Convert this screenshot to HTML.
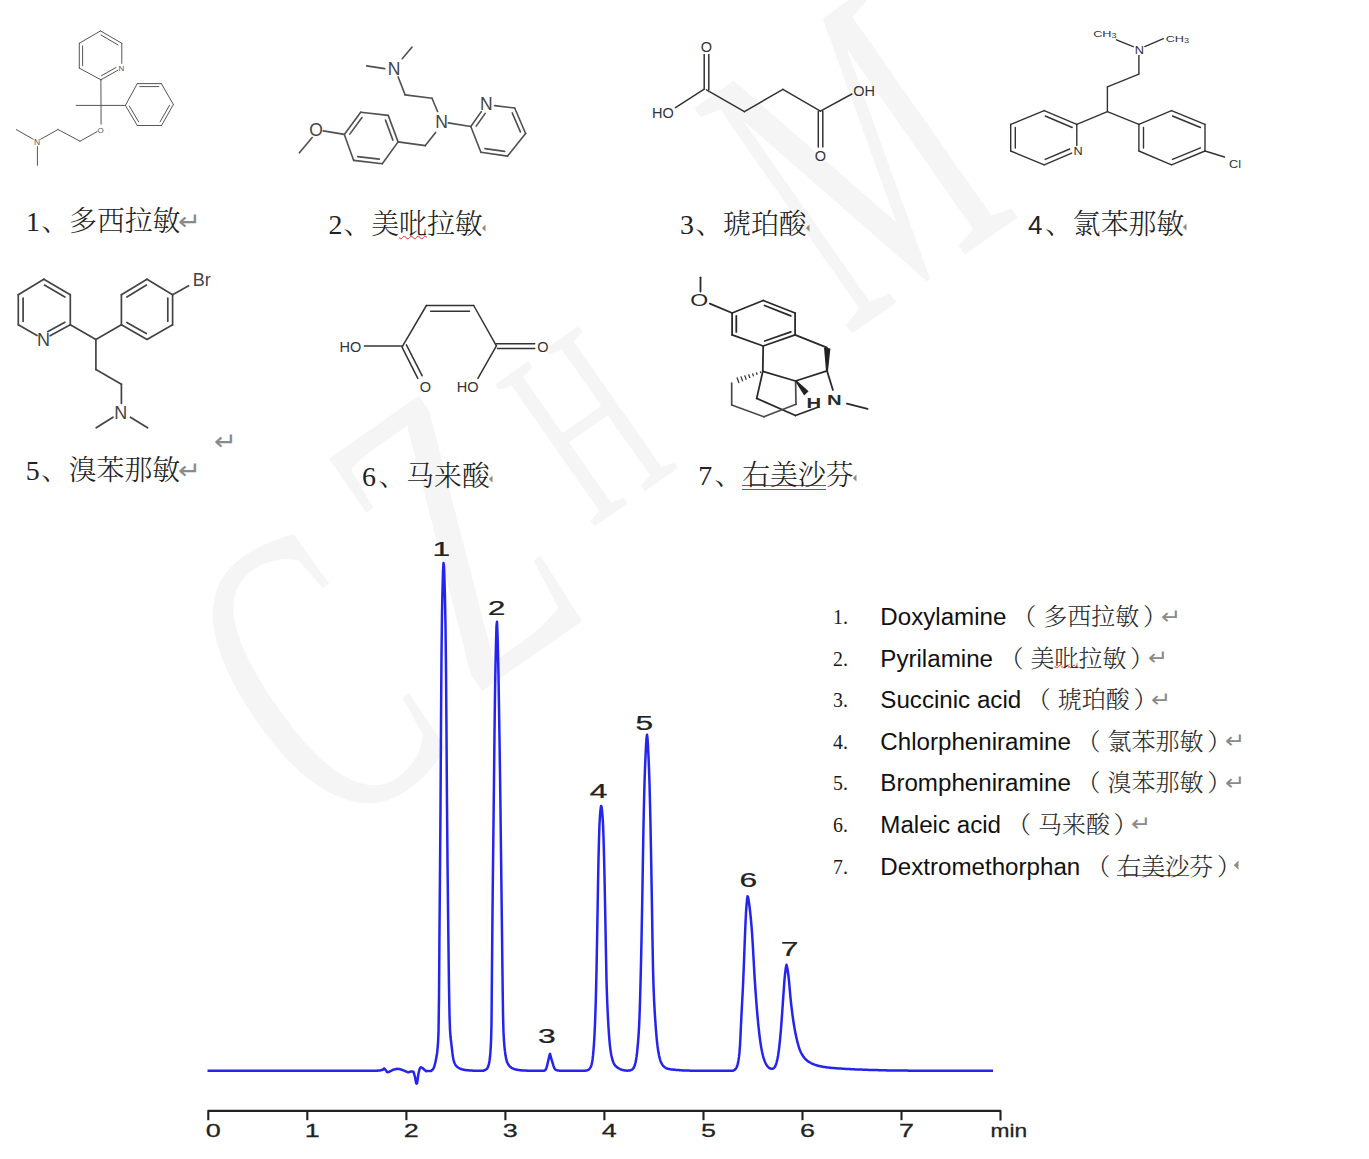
<!DOCTYPE html>
<html lang="zh-CN">
<head>
<meta charset="utf-8">
<title>抗组胺药色谱图</title>
<style>
html,body{margin:0;padding:0;background:#fff;}
body{width:1369px;height:1159px;position:relative;overflow:hidden;font-family:"Liberation Serif","Noto Serif CJK SC",serif;}
#wm{position:absolute;left:0;top:0;width:1369px;height:1159px;overflow:hidden;z-index:0;}
#wm span{position:absolute;font-family:"Liberation Serif",serif;font-size:425px;line-height:1;color:#f5f5f5;white-space:nowrap;transform:translate(-50%,-50%) rotate(-35deg) scaleX(0.58);}
svg{position:absolute;left:0;top:0;z-index:1;}
.lab{position:absolute;z-index:2;white-space:nowrap;font-size:27.85px;line-height:32px;color:#222;font-weight:300;}
.lab .n{font-family:"Liberation Serif",serif;}
.ret{color:#8a8a8a;font-family:"DejaVu Sans",sans-serif;font-size:24.5px;font-weight:400;line-height:1;position:relative;top:-1px;margin-left:-2px;display:inline-block;transform:scaleX(1.12);transform-origin:left center;}
.clip{display:inline-block;overflow:hidden;vertical-align:bottom;width:4px;}
.wavy{text-decoration:underline wavy #e03030 1px;text-underline-offset:0.5px;}
.dbl{background-image:linear-gradient(#3a62c8,#3a62c8),linear-gradient(#3a62c8,#3a62c8);background-size:100% 1.2px,100% 1.2px;background-repeat:no-repeat;background-position:0 25.4px,0 29px;}
ol{position:absolute;z-index:2;left:834px;top:596px;margin:0;padding:0;list-style:none;}
ol li{height:41.6px;line-height:41.6px;white-space:nowrap;font-size:24px;color:#1a1a1a;position:relative;}
ol li .no{position:absolute;left:-1.5px;top:0;font-family:"Liberation Serif","Noto Serif CJK SC",serif;font-size:22px;display:inline-block;transform:scaleX(0.9);transform-origin:left;}
ol li .en{position:absolute;left:46.3px;top:0;font-family:"Liberation Sans",sans-serif;font-size:24.15px;color:#111;}
ol li .cn{position:absolute;top:-2px;font-family:"Noto Serif CJK SC",serif;font-size:24px;color:#2a2a2a;font-weight:300;}
ol li .wavy{text-underline-offset:-2.5px;}
ol li .ret{font-size:21.5px;top:-1.5px;margin-left:-6px;}
.pl{margin-right:7px;}
.pr{margin-left:3.6px;}
.dbl2{background-image:linear-gradient(#3a62c8,#3a62c8);background-size:100% 1.4px;background-repeat:no-repeat;background-position:0 28.2px;}
</style>
</head>
<body>
<div id="wm"><span style="left:313px;top:676px">C</span><span style="left:452px;top:537px">Z</span><span style="left:585px;top:424px;font-size:265px">H</span><span style="left:854px;top:160px;font-size:420px">M</span></div>
<svg width="1369" height="1159" viewBox="0 0 1369 1159">
<g stroke="#555" stroke-width="1.0" fill="none" stroke-linecap="round">
<line x1="100.5" y1="30.9" x2="121.8" y2="43.3"/>
<line x1="101.0" y1="35.0" x2="118.0" y2="44.9"/>
<line x1="121.8" y1="43.3" x2="121.8" y2="63.4"/>
<line x1="117.8" y1="70.3" x2="100.9" y2="79.8"/>
<line x1="116.0" y1="67.5" x2="101.5" y2="75.7"/>
<line x1="100.9" y1="79.8" x2="79.3" y2="68.1"/>
<line x1="79.3" y1="68.1" x2="79.3" y2="43.3"/>
<line x1="82.6" y1="65.6" x2="82.6" y2="45.8"/>
<line x1="79.3" y1="43.3" x2="100.5" y2="30.9"/>
<line x1="100.9" y1="79.8" x2="101.1" y2="124.2"/>
<line x1="76.2" y1="105.4" x2="125.4" y2="105.4"/>
<line x1="125.4" y1="105.4" x2="137.3" y2="83.6"/>
<line x1="137.3" y1="83.6" x2="161.3" y2="83.6"/>
<line x1="139.8" y1="86.6" x2="158.8" y2="86.6"/>
<line x1="161.3" y1="83.6" x2="173.4" y2="104.5"/>
<line x1="173.4" y1="104.5" x2="161.5" y2="125.5"/>
<line x1="169.6" y1="105.2" x2="160.1" y2="121.8"/>
<line x1="161.5" y1="125.5" x2="137.3" y2="125.5"/>
<line x1="137.3" y1="125.5" x2="125.4" y2="105.4"/>
<line x1="138.6" y1="121.8" x2="129.3" y2="106.0"/>
<line x1="97.2" y1="131.6" x2="80.0" y2="141.2"/>
<line x1="80.0" y1="141.2" x2="58.0" y2="129.5"/>
<line x1="58.0" y1="129.5" x2="40.6" y2="139.3"/>
<line x1="33.2" y1="139.2" x2="16.3" y2="129.6"/>
<line x1="37.4" y1="146.6" x2="37.4" y2="165.3"/>
</g>
<g fill="#555" stroke="none" font-family="Liberation Sans, sans-serif">
<text x="121.3" y="71.4" font-size="8" text-anchor="middle">N</text>
<text x="100.5" y="132.8" font-size="8" text-anchor="middle">O</text>
<text x="37.0" y="145.2" font-size="8.5" text-anchor="middle">N</text>
</g>
<g stroke="#505050" stroke-width="1.6" fill="none" stroke-linecap="round">
<line x1="402.2" y1="58.7" x2="412.1" y2="47.0"/>
<line x1="384.7" y1="68.6" x2="366.6" y2="65.9"/>
<line x1="398.1" y1="76.8" x2="405.1" y2="94.9"/>
<line x1="405.1" y1="94.9" x2="432.0" y2="98.2"/>
<line x1="432.0" y1="98.2" x2="437.6" y2="111.5"/>
<line x1="435.6" y1="132.4" x2="425.3" y2="145.6"/>
<line x1="425.3" y1="145.6" x2="398.1" y2="141.9"/>
<line x1="398.1" y1="141.9" x2="388.2" y2="115.4"/>
<line x1="392.9" y1="140.1" x2="385.5" y2="120.1"/>
<line x1="388.2" y1="115.4" x2="360.7" y2="112.2"/>
<line x1="360.7" y1="112.2" x2="344.3" y2="134.4"/>
<line x1="362.0" y1="117.5" x2="349.8" y2="134.1"/>
<line x1="344.3" y1="134.4" x2="353.7" y2="160.4"/>
<line x1="353.7" y1="160.4" x2="382.3" y2="163.7"/>
<line x1="357.7" y1="156.6" x2="379.3" y2="159.1"/>
<line x1="382.3" y1="163.7" x2="398.1" y2="141.9"/>
<line x1="323.3" y1="130.9" x2="344.3" y2="134.4"/>
<line x1="312.2" y1="137.6" x2="299.4" y2="152.8"/>
<line x1="448.2" y1="122.9" x2="470.8" y2="126.5"/>
<line x1="470.8" y1="126.5" x2="481.3" y2="111.6"/>
<line x1="476.2" y1="126.1" x2="485.2" y2="113.4"/>
<line x1="494.6" y1="105.6" x2="514.7" y2="108.0"/>
<line x1="514.7" y1="108.0" x2="525.6" y2="133.5"/>
<line x1="512.2" y1="112.9" x2="520.4" y2="131.9"/>
<line x1="525.6" y1="133.5" x2="507.6" y2="156.1"/>
<line x1="507.6" y1="156.1" x2="480.9" y2="152.3"/>
<line x1="504.7" y1="151.4" x2="485.0" y2="148.6"/>
<line x1="480.9" y1="152.3" x2="470.8" y2="126.5"/>
</g>
<g fill="#444" stroke="none" font-family="Liberation Sans, sans-serif">
<text x="394.0" y="74.5" font-size="17.5" text-anchor="middle">N</text>
<text x="441.6" y="127.5" font-size="17.5" text-anchor="middle">N</text>
<text x="486.4" y="110.3" font-size="17.5" text-anchor="middle">N</text>
<text x="316.0" y="135.6" font-size="17.5" text-anchor="middle">O</text>
</g>
<g stroke="#333" stroke-width="1.5" fill="none" stroke-linecap="round">
<line x1="704.2" y1="54.6" x2="704.2" y2="89.0"/>
<line x1="708.8" y1="54.6" x2="708.8" y2="89.8"/>
<line x1="704.2" y1="89.2" x2="675.5" y2="107.6"/>
<line x1="706.5" y1="89.8" x2="744.4" y2="111.6"/>
<line x1="744.4" y1="111.6" x2="782.9" y2="89.4"/>
<line x1="782.9" y1="89.4" x2="820.4" y2="111.1"/>
<line x1="820.4" y1="111.1" x2="851.9" y2="94.0"/>
<line x1="818.3" y1="111.5" x2="818.3" y2="147.0"/>
<line x1="822.8" y1="111.1" x2="822.8" y2="147.0"/>
</g>
<g fill="#333" stroke="none" font-family="Liberation Sans, sans-serif">
<text x="706.3" y="51.5" font-size="14.5" text-anchor="middle">O</text>
<text x="662.8" y="117.8" font-size="14.5" text-anchor="middle">HO</text>
<text x="864.0" y="96.0" font-size="14.5" text-anchor="middle">OH</text>
<text x="820.4" y="161.4" font-size="14.5" text-anchor="middle">O</text>
</g>
<g stroke="#333" stroke-width="1.4" fill="none" stroke-linecap="round">
<line x1="1133.2" y1="46.7" x2="1116.5" y2="39.8"/>
<line x1="1144.8" y1="46.6" x2="1163.4" y2="38.7"/>
<line x1="1138.9" y1="55.6" x2="1138.9" y2="74.1"/>
<line x1="1138.9" y1="74.1" x2="1107.4" y2="86.9"/>
<line x1="1107.4" y1="86.9" x2="1107.4" y2="111.6"/>
<line x1="1107.4" y1="111.6" x2="1076.8" y2="124.4"/>
<line x1="1107.4" y1="111.6" x2="1138.9" y2="124.4"/>
<line x1="1076.8" y1="124.4" x2="1044.2" y2="110.6"/>
<line x1="1072.2" y1="127.5" x2="1045.2" y2="116.0"/>
<line x1="1044.2" y1="110.6" x2="1010.7" y2="124.4"/>
<line x1="1010.7" y1="124.4" x2="1010.7" y2="151.0"/>
<line x1="1015.3" y1="127.4" x2="1015.3" y2="148.0"/>
<line x1="1010.7" y1="151.0" x2="1044.2" y2="164.8"/>
<line x1="1044.2" y1="164.8" x2="1071.7" y2="153.1"/>
<line x1="1045.2" y1="159.4" x2="1069.7" y2="149.0"/>
<line x1="1076.8" y1="145.5" x2="1076.8" y2="124.4"/>
<line x1="1138.9" y1="124.4" x2="1171.5" y2="110.6"/>
<line x1="1171.5" y1="110.6" x2="1205.0" y2="124.4"/>
<line x1="1172.5" y1="116.0" x2="1200.5" y2="127.5"/>
<line x1="1205.0" y1="124.4" x2="1205.0" y2="151.0"/>
<line x1="1205.0" y1="151.0" x2="1171.5" y2="164.8"/>
<line x1="1200.5" y1="147.9" x2="1172.5" y2="159.4"/>
<line x1="1171.5" y1="164.8" x2="1138.9" y2="151.0"/>
<line x1="1138.9" y1="151.0" x2="1138.9" y2="124.4"/>
<line x1="1143.5" y1="148.0" x2="1143.5" y2="127.4"/>
<line x1="1205.0" y1="151.0" x2="1224.5" y2="157.0"/>
</g>
<g fill="#333" stroke="none" font-family="Liberation Sans, sans-serif">
<text transform="translate(1139.3,53.5) scale(1.25,1)" font-size="10.2" text-anchor="middle">N</text>
<text transform="translate(1078.2,155.2) scale(1.25,1)" font-size="10.2" text-anchor="middle">N</text>
<text transform="translate(1104.9,36.6) scale(1.3,1)" font-size="9.8" text-anchor="middle">CH<tspan font-size="7" dy="1.6">3</tspan></text>
<text transform="translate(1177.4,41.6) scale(1.3,1)" font-size="9.8" text-anchor="middle">CH<tspan font-size="7" dy="1.6">3</tspan></text>
<text transform="translate(1235.1,167.6) scale(1.25,1)" font-size="10.2" text-anchor="middle">Cl</text>
</g>
<g stroke="#444" stroke-width="1.7" fill="none" stroke-linecap="round">
<line x1="70.3" y1="324.8" x2="70.3" y2="294.7"/>
<line x1="70.3" y1="294.7" x2="43.8" y2="279.2"/>
<line x1="64.9" y1="297.1" x2="44.4" y2="285.1"/>
<line x1="43.8" y1="279.2" x2="18.3" y2="294.7"/>
<line x1="18.3" y1="294.7" x2="18.3" y2="324.8"/>
<line x1="23.1" y1="298.2" x2="23.1" y2="321.3"/>
<line x1="18.3" y1="324.8" x2="37.0" y2="335.6"/>
<line x1="50.1" y1="335.8" x2="70.3" y2="324.8"/>
<line x1="47.6" y1="331.7" x2="64.9" y2="322.3"/>
<line x1="70.3" y1="324.8" x2="95.9" y2="339.4"/>
<line x1="95.9" y1="339.4" x2="121.4" y2="324.8"/>
<line x1="121.4" y1="324.8" x2="121.4" y2="294.7"/>
<line x1="121.4" y1="294.7" x2="147.0" y2="279.2"/>
<line x1="126.9" y1="297.0" x2="146.5" y2="285.1"/>
<line x1="147.0" y1="279.2" x2="172.6" y2="294.7"/>
<line x1="172.6" y1="294.7" x2="172.6" y2="324.8"/>
<line x1="167.8" y1="298.2" x2="167.8" y2="321.3"/>
<line x1="172.6" y1="324.8" x2="147.0" y2="339.4"/>
<line x1="147.0" y1="339.4" x2="121.4" y2="324.8"/>
<line x1="146.3" y1="333.5" x2="126.8" y2="322.4"/>
<line x1="172.6" y1="294.7" x2="188.6" y2="285.8"/>
<line x1="95.9" y1="339.4" x2="95.9" y2="369.6"/>
<line x1="95.9" y1="369.6" x2="121.4" y2="384.2"/>
<line x1="121.4" y1="384.2" x2="121.4" y2="403.5"/>
<line x1="113.0" y1="417.2" x2="96.2" y2="427.8"/>
<line x1="130.4" y1="417.2" x2="147.6" y2="427.8"/>
</g>
<g fill="#444" stroke="none" font-family="Liberation Sans, sans-serif">
<text x="43.5" y="346.0" font-size="18" text-anchor="middle">N</text>
<text x="120.8" y="419.0" font-size="18" text-anchor="middle">N</text>
<text x="201.8" y="285.6" font-size="18" text-anchor="middle">Br</text>
</g>
<g stroke="#333" stroke-width="1.5" fill="none" stroke-linecap="round">
<line x1="364.4" y1="345.9" x2="402.7" y2="345.9"/>
<line x1="402.0" y1="347.2" x2="417.8" y2="378.3"/>
<line x1="406.4" y1="344.8" x2="422.2" y2="375.8"/>
<line x1="402.7" y1="345.9" x2="426.4" y2="305.5"/>
<line x1="426.4" y1="305.5" x2="473.7" y2="305.5"/>
<line x1="430.6" y1="311.2" x2="469.5" y2="311.2"/>
<line x1="473.7" y1="305.5" x2="496.4" y2="345.9"/>
<line x1="496.0" y1="343.8" x2="534.7" y2="343.8"/>
<line x1="497.5" y1="348.6" x2="534.7" y2="348.6"/>
<line x1="496.4" y1="345.9" x2="477.9" y2="378.3"/>
</g>
<g fill="#333" stroke="none" font-family="Liberation Sans, sans-serif">
<text x="350.3" y="351.7" font-size="14.5" text-anchor="middle">HO</text>
<text x="425.5" y="391.6" font-size="14.5" text-anchor="middle">O</text>
<text x="542.8" y="351.7" font-size="14.5" text-anchor="middle">O</text>
<text x="467.6" y="391.6" font-size="14.5" text-anchor="middle">HO</text>
</g>
<g stroke="#2a2a2a" stroke-width="1.8" fill="none" stroke-linecap="round">
<line x1="700.5" y1="277.3" x2="700.5" y2="291.5"/>
<line x1="709.8" y1="303.6" x2="732.1" y2="313.0"/>
<line x1="732.1" y1="313.0" x2="763.2" y2="300.5"/>
<line x1="763.2" y1="300.5" x2="795.1" y2="313.0"/>
<line x1="764.5" y1="305.5" x2="790.8" y2="315.8"/>
<line x1="795.1" y1="313.0" x2="795.1" y2="334.9"/>
<line x1="795.1" y1="334.9" x2="763.2" y2="346.0"/>
<line x1="790.9" y1="331.9" x2="764.7" y2="341.0"/>
<line x1="763.2" y1="346.0" x2="732.1" y2="334.9"/>
<line x1="732.1" y1="334.9" x2="732.1" y2="313.0"/>
<line x1="736.3" y1="331.9" x2="736.3" y2="316.0"/>
<line x1="795.1" y1="334.9" x2="827.0" y2="347.7"/>
<line x1="763.2" y1="346.0" x2="762.8" y2="371.4"/>
<line x1="762.8" y1="371.4" x2="795.5" y2="381.0"/>
<line x1="795.5" y1="381.0" x2="827.0" y2="370.8"/>
<line x1="827.0" y1="370.8" x2="832.9" y2="390.0"/>
<line x1="846.9" y1="403.6" x2="867.6" y2="408.9"/>
<line x1="762.8" y1="371.4" x2="756.7" y2="398.4"/>
<line x1="756.7" y1="398.4" x2="795.5" y2="415.5"/>
<line x1="795.5" y1="415.5" x2="818.5" y2="407.0"/>
</g>
<g stroke="#4a4a4a" stroke-width="1.7" fill="none" stroke-linecap="round">
<line x1="731.7" y1="383.0" x2="731.7" y2="405.0"/>
<line x1="731.7" y1="405.0" x2="763.9" y2="416.8"/>
<line x1="763.9" y1="416.8" x2="796.0" y2="404.3"/>
<line x1="796.0" y1="404.3" x2="795.6" y2="382.0"/>
</g>
<g fill="#222" stroke="none">
<polygon points="824.0,347.4 830.4,348.6 828.0,371.0 826.0,371.0"/>
<polygon points="795.0,381.0 796.6,380.6 808.6,391.2 804.2,395.4"/>
</g>
<g stroke="#333" stroke-width="1.3" fill="none" stroke-linecap="butt">
<line x1="760.8" y1="373.0" x2="760.3" y2="371.4"/>
<line x1="757.2" y1="374.7" x2="756.4" y2="372.4"/>
<line x1="753.6" y1="376.4" x2="752.5" y2="373.4"/>
<line x1="749.9" y1="378.1" x2="748.6" y2="374.4"/>
<line x1="746.3" y1="379.8" x2="744.7" y2="375.4"/>
<line x1="742.7" y1="381.4" x2="740.9" y2="376.4"/>
<line x1="739.0" y1="383.1" x2="737.0" y2="377.4"/>
</g>
<g fill="#2a2a2a" stroke="none" font-family="Liberation Sans, sans-serif">
<text transform="translate(699.3,306.0) scale(1.4,1)" font-size="16.5" text-anchor="middle">O</text>
<text transform="translate(813.9,407.6) scale(1.35,1)" font-size="15" font-weight="bold" text-anchor="middle">H</text>
<text transform="translate(834.4,405.2) scale(1.35,1)" font-size="15" font-weight="bold" text-anchor="middle">N</text>
</g>
<polyline points="207.5,1070.8 208.0,1070.8 208.5,1070.8 209.0,1070.8 209.5,1070.8 210.0,1070.8 210.5,1070.8 211.0,1070.8 211.5,1070.8 212.0,1070.8 212.5,1070.8 213.0,1070.8 213.5,1070.8 214.0,1070.8 214.5,1070.8 215.0,1070.8 215.5,1070.8 216.0,1070.8 216.5,1070.8 217.0,1070.8 217.5,1070.8 218.0,1070.8 218.5,1070.8 219.0,1070.8 219.5,1070.8 220.0,1070.8 220.5,1070.8 221.0,1070.8 221.5,1070.8 222.0,1070.8 222.5,1070.8 223.0,1070.8 223.5,1070.8 224.0,1070.8 224.5,1070.8 225.0,1070.8 225.5,1070.8 226.0,1070.8 226.5,1070.8 227.0,1070.8 227.5,1070.8 228.0,1070.8 228.5,1070.8 229.0,1070.8 229.5,1070.8 230.0,1070.8 230.5,1070.8 231.0,1070.8 231.5,1070.8 232.0,1070.8 232.5,1070.8 233.0,1070.8 233.5,1070.8 234.0,1070.8 234.5,1070.8 235.0,1070.8 235.5,1070.8 236.0,1070.8 236.5,1070.8 237.0,1070.8 237.5,1070.8 238.0,1070.8 238.5,1070.8 239.0,1070.8 239.5,1070.8 240.0,1070.8 240.5,1070.8 241.0,1070.8 241.5,1070.8 242.0,1070.8 242.5,1070.8 243.0,1070.8 243.5,1070.8 244.0,1070.8 244.5,1070.8 245.0,1070.8 245.5,1070.8 246.0,1070.8 246.5,1070.8 247.0,1070.8 247.5,1070.8 248.0,1070.8 248.5,1070.8 249.0,1070.8 249.5,1070.8 250.0,1070.8 250.5,1070.8 251.0,1070.8 251.5,1070.8 252.0,1070.8 252.5,1070.8 253.0,1070.8 253.5,1070.8 254.0,1070.8 254.5,1070.8 255.0,1070.8 255.5,1070.8 256.0,1070.8 256.5,1070.8 257.0,1070.8 257.5,1070.8 258.0,1070.8 258.5,1070.8 259.0,1070.8 259.5,1070.8 260.0,1070.8 260.5,1070.8 261.0,1070.8 261.5,1070.8 262.0,1070.8 262.5,1070.8 263.0,1070.8 263.5,1070.8 264.0,1070.8 264.5,1070.8 265.0,1070.8 265.5,1070.8 266.0,1070.8 266.5,1070.8 267.0,1070.8 267.5,1070.8 268.0,1070.8 268.5,1070.8 269.0,1070.8 269.5,1070.8 270.0,1070.8 270.5,1070.8 271.0,1070.8 271.5,1070.8 272.0,1070.8 272.5,1070.8 273.0,1070.8 273.5,1070.8 274.0,1070.8 274.5,1070.8 275.0,1070.8 275.5,1070.8 276.0,1070.8 276.5,1070.8 277.0,1070.8 277.5,1070.8 278.0,1070.8 278.5,1070.8 279.0,1070.8 279.5,1070.8 280.0,1070.8 280.5,1070.8 281.0,1070.8 281.5,1070.8 282.0,1070.8 282.5,1070.8 283.0,1070.8 283.5,1070.8 284.0,1070.8 284.5,1070.8 285.0,1070.8 285.5,1070.8 286.0,1070.8 286.5,1070.8 287.0,1070.8 287.5,1070.8 288.0,1070.8 288.5,1070.8 289.0,1070.8 289.5,1070.8 290.0,1070.8 290.5,1070.8 291.0,1070.8 291.5,1070.8 292.0,1070.8 292.5,1070.8 293.0,1070.8 293.5,1070.8 294.0,1070.8 294.5,1070.8 295.0,1070.8 295.5,1070.8 296.0,1070.8 296.5,1070.8 297.0,1070.8 297.5,1070.8 298.0,1070.8 298.5,1070.8 299.0,1070.8 299.5,1070.8 300.0,1070.8 300.5,1070.8 301.0,1070.8 301.5,1070.8 302.0,1070.8 302.5,1070.8 303.0,1070.8 303.5,1070.8 304.0,1070.8 304.5,1070.8 305.0,1070.8 305.5,1070.8 306.0,1070.8 306.5,1070.8 307.0,1070.8 307.5,1070.8 308.0,1070.8 308.5,1070.8 309.0,1070.8 309.5,1070.8 310.0,1070.8 310.5,1070.8 311.0,1070.8 311.5,1070.8 312.0,1070.8 312.5,1070.8 313.0,1070.8 313.5,1070.8 314.0,1070.8 314.5,1070.8 315.0,1070.8 315.5,1070.8 316.0,1070.8 316.5,1070.8 317.0,1070.8 317.5,1070.8 318.0,1070.8 318.5,1070.8 319.0,1070.8 319.5,1070.8 320.0,1070.8 320.5,1070.8 321.0,1070.8 321.5,1070.8 322.0,1070.8 322.5,1070.8 323.0,1070.8 323.5,1070.8 324.0,1070.8 324.5,1070.8 325.0,1070.8 325.5,1070.8 326.0,1070.8 326.5,1070.8 327.0,1070.8 327.5,1070.8 328.0,1070.8 328.5,1070.8 329.0,1070.8 329.5,1070.8 330.0,1070.8 330.5,1070.8 331.0,1070.8 331.5,1070.8 332.0,1070.8 332.5,1070.8 333.0,1070.8 333.5,1070.8 334.0,1070.8 334.5,1070.8 335.0,1070.8 335.5,1070.8 336.0,1070.8 336.5,1070.8 337.0,1070.8 337.5,1070.8 338.0,1070.8 338.5,1070.8 339.0,1070.8 339.5,1070.8 340.0,1070.8 340.5,1070.8 341.0,1070.8 341.5,1070.8 342.0,1070.8 342.5,1070.8 343.0,1070.8 343.5,1070.8 344.0,1070.8 344.5,1070.8 345.0,1070.8 345.5,1070.8 346.0,1070.8 346.5,1070.8 347.0,1070.8 347.5,1070.8 348.0,1070.8 348.5,1070.8 349.0,1070.8 349.5,1070.8 350.0,1070.8 350.5,1070.8 351.0,1070.8 351.5,1070.8 352.0,1070.8 352.5,1070.8 353.0,1070.8 353.5,1070.8 354.0,1070.8 354.5,1070.8 355.0,1070.8 355.5,1070.8 356.0,1070.8 356.5,1070.8 357.0,1070.8 357.5,1070.8 358.0,1070.8 358.5,1070.8 359.0,1070.8 359.5,1070.8 360.0,1070.8 360.5,1070.8 361.0,1070.8 361.5,1070.8 362.0,1070.8 362.5,1070.8 363.0,1070.8 363.5,1070.8 364.0,1070.8 364.5,1070.8 365.0,1070.8 365.5,1070.8 366.0,1070.8 366.5,1070.8 367.0,1070.8 367.5,1070.8 368.0,1070.8 368.5,1070.8 369.0,1070.8 369.5,1070.8 370.0,1070.8 370.5,1070.8 371.0,1070.8 371.5,1070.8 372.0,1070.8 372.5,1070.8 373.0,1070.8 373.5,1070.8 374.0,1070.8 374.5,1070.8 375.0,1070.8 375.5,1070.8 376.0,1070.8 376.5,1070.8 377.0,1070.7 377.5,1070.7 378.0,1070.6 378.5,1070.6 379.0,1070.6 379.5,1070.5 380.0,1070.5 380.5,1070.3 381.0,1070.2 381.5,1070.0 382.0,1069.9 382.5,1069.8 383.0,1069.6 383.5,1069.0 384.0,1068.4 384.5,1068.6 385.0,1069.3 385.5,1069.9 386.0,1070.6 386.5,1071.3 387.0,1072.0 387.5,1072.3 388.0,1072.1 388.5,1072.0 389.0,1071.8 389.5,1071.6 390.0,1071.4 390.5,1071.1 391.0,1070.9 391.5,1070.6 392.0,1070.3 392.5,1070.1 393.0,1069.8 393.5,1069.7 394.0,1069.5 394.5,1069.4 395.0,1069.3 395.5,1069.2 396.0,1069.0 396.5,1068.9 397.0,1068.8 397.5,1068.9 398.0,1068.9 398.5,1069.0 399.0,1069.1 399.5,1069.1 400.0,1069.2 400.5,1069.4 401.0,1069.5 401.5,1069.7 402.0,1069.9 402.5,1070.1 403.0,1070.2 403.5,1070.4 404.0,1070.6 404.5,1070.8 405.0,1071.0 405.5,1071.2 406.0,1071.5 406.5,1071.7 407.0,1071.9 407.5,1072.1 408.0,1072.3 408.5,1072.3 409.0,1072.1 409.5,1071.9 410.0,1071.8 410.5,1071.6 411.0,1071.4 411.5,1071.5 412.0,1071.6 412.5,1071.6 413.0,1071.7 413.5,1071.8 414.0,1073.3 414.5,1075.2 415.0,1077.0 415.5,1079.6 416.0,1082.6 416.5,1083.6 417.0,1083.4 417.5,1080.7 418.0,1076.5 418.5,1073.5 419.0,1071.4 419.5,1069.2 420.0,1068.3 420.5,1067.6 421.0,1067.3 421.5,1067.5 422.0,1067.8 422.5,1068.0 423.0,1068.5 423.5,1068.9 424.0,1069.3 424.5,1069.8 425.0,1070.3 425.5,1070.7 426.0,1071.2 426.5,1071.2 427.0,1071.1 427.5,1071.1 428.0,1071.1 428.5,1071.0 429.0,1071.0 429.5,1071.0 430.0,1070.9 430.5,1070.9 431.0,1070.9 431.5,1070.8 432.0,1070.1 432.5,1069.7 433.0,1069.1 433.5,1068.3 434.0,1067.2 434.5,1065.7 435.0,1063.9 435.5,1061.7 436.0,1059.2 436.5,1056.5 437.0,1053.5 437.5,1049.3 438.0,1043.1 438.5,1032.9 439.0,997.5 439.5,928.1 440.0,870.7 440.5,809.8 441.0,723.0 441.5,654.4 442.0,613.6 442.5,590.1 443.0,571.9 443.5,563.1 444.0,566.6 444.5,580.2 445.0,600.1 445.5,625.0 446.0,668.6 446.5,733.2 447.0,805.6 447.5,860.8 448.0,907.1 448.5,947.7 449.0,986.7 449.5,1014.8 450.0,1029.7 450.5,1036.5 451.0,1041.0 451.5,1045.0 452.0,1049.5 452.5,1053.7 453.0,1057.2 453.5,1059.8 454.0,1061.7 454.5,1063.0 455.0,1064.0 455.5,1064.9 456.0,1065.6 456.5,1066.2 457.0,1066.7 457.5,1067.1 458.0,1067.5 458.5,1067.8 459.0,1068.1 459.5,1068.4 460.0,1068.6 460.5,1068.8 461.0,1069.0 461.5,1069.2 462.0,1069.3 462.5,1069.5 463.0,1069.6 463.5,1069.7 464.0,1069.8 464.5,1069.9 465.0,1070.0 465.5,1070.0 466.0,1070.1 466.5,1070.2 467.0,1070.2 467.5,1070.3 468.0,1070.3 468.5,1070.3 469.0,1070.4 469.5,1070.4 470.0,1070.4 470.5,1070.5 471.0,1070.5 471.5,1070.5 472.0,1070.5 472.5,1070.5 473.0,1070.8 473.5,1070.8 474.0,1070.8 474.5,1070.8 475.0,1070.8 475.5,1070.8 476.0,1070.8 476.5,1070.8 477.0,1070.8 477.5,1070.8 478.0,1070.8 478.5,1070.8 479.0,1070.8 479.5,1070.8 480.0,1070.8 480.5,1070.8 481.0,1070.8 481.5,1070.8 482.0,1070.8 482.5,1070.8 483.0,1070.8 483.5,1070.8 484.0,1070.3 484.5,1070.2 485.0,1070.0 485.5,1069.8 486.0,1069.5 486.5,1069.1 487.0,1068.6 487.5,1067.9 488.0,1066.9 488.5,1065.5 489.0,1063.7 489.5,1060.9 490.0,1057.0 490.5,1051.0 491.0,1041.9 491.5,1024.4 492.0,966.2 492.5,911.4 493.0,865.8 493.5,823.5 494.0,779.9 494.5,733.4 495.0,694.0 495.5,664.9 496.0,643.2 496.5,626.0 497.0,621.7 497.5,633.8 498.0,652.5 498.5,675.1 499.0,707.3 499.5,738.5 500.0,772.5 500.5,811.1 501.0,851.9 501.5,893.1 502.0,932.5 502.5,975.5 503.0,1013.4 503.5,1032.2 504.0,1041.1 504.5,1047.1 505.0,1051.7 505.5,1055.3 506.0,1058.1 506.5,1060.2 507.0,1061.8 507.5,1063.0 508.0,1064.0 508.5,1064.8 509.0,1065.5 509.5,1066.1 510.0,1066.6 510.5,1067.1 511.0,1067.4 511.5,1067.8 512.0,1068.1 512.5,1068.3 513.0,1068.5 513.5,1068.8 514.0,1069.0 514.5,1069.1 515.0,1069.3 515.5,1069.4 516.0,1069.5 516.5,1069.7 517.0,1069.8 517.5,1069.8 518.0,1069.9 518.5,1070.0 519.0,1070.1 519.5,1070.1 520.0,1070.2 520.5,1070.2 521.0,1070.3 521.5,1070.3 522.0,1070.4 522.5,1070.4 523.0,1070.4 523.5,1070.4 524.0,1070.5 524.5,1070.5 525.0,1070.5 525.5,1070.5 526.0,1070.6 526.5,1070.6 527.0,1070.8 527.5,1070.8 528.0,1070.8 528.5,1070.8 529.0,1070.8 529.5,1070.8 530.0,1070.8 530.5,1070.8 531.0,1070.8 531.5,1070.8 532.0,1070.8 532.5,1070.8 533.0,1070.8 533.5,1070.8 534.0,1070.8 534.5,1070.8 535.0,1070.8 535.5,1070.8 536.0,1070.8 536.5,1070.8 537.0,1070.8 537.5,1070.8 538.0,1070.8 538.5,1070.8 539.0,1070.8 539.5,1070.8 540.0,1070.8 540.5,1070.8 541.0,1070.8 541.5,1070.8 542.0,1070.8 542.5,1070.8 543.0,1070.8 543.5,1070.8 544.0,1070.7 544.5,1070.6 545.0,1070.3 545.5,1069.8 546.0,1069.0 546.5,1067.7 547.0,1065.9 547.5,1063.9 548.0,1061.8 548.5,1059.6 549.0,1057.2 549.5,1055.0 550.0,1053.9 550.5,1055.7 551.0,1057.5 551.5,1059.3 552.0,1061.0 552.5,1062.5 553.0,1064.1 553.5,1065.8 554.0,1067.3 554.5,1068.4 555.0,1069.1 555.5,1069.6 556.0,1069.9 556.5,1070.1 557.0,1070.3 557.5,1070.4 558.0,1070.5 558.5,1070.6 559.0,1070.6 559.5,1070.7 560.0,1070.7 560.5,1070.7 561.0,1070.8 561.5,1070.8 562.0,1070.8 562.5,1070.8 563.0,1070.8 563.5,1070.8 564.0,1070.8 564.5,1070.8 565.0,1070.8 565.5,1070.8 566.0,1070.8 566.5,1070.8 567.0,1070.8 567.5,1070.8 568.0,1070.8 568.5,1070.8 569.0,1070.8 569.5,1070.8 570.0,1070.8 570.5,1070.8 571.0,1070.8 571.5,1070.8 572.0,1070.8 572.5,1070.8 573.0,1070.8 573.5,1070.8 574.0,1070.8 574.5,1070.8 575.0,1070.8 575.5,1070.8 576.0,1070.8 576.5,1070.8 577.0,1070.8 577.5,1070.8 578.0,1070.8 578.5,1070.8 579.0,1070.8 579.5,1070.8 580.0,1070.8 580.5,1070.8 581.0,1070.8 581.5,1070.8 582.0,1070.8 582.5,1070.8 583.0,1070.8 583.5,1070.8 584.0,1070.8 584.5,1070.8 585.0,1070.8 585.5,1070.6 586.0,1070.6 586.5,1070.5 587.0,1070.4 587.5,1070.2 588.0,1070.0 588.5,1069.7 589.0,1069.3 589.5,1068.8 590.0,1068.2 590.5,1067.4 591.0,1066.4 591.5,1064.9 592.0,1062.9 592.5,1059.9 593.0,1055.7 593.5,1050.1 594.0,1043.3 594.5,1034.8 595.0,1023.9 595.5,1010.0 596.0,992.4 596.5,970.5 597.0,943.7 597.5,915.5 598.0,885.0 598.5,858.8 599.0,839.1 599.5,823.9 600.0,815.7 600.5,809.6 601.0,806.1 601.5,806.5 602.0,810.2 602.5,816.0 603.0,823.6 603.5,837.3 604.0,855.1 604.5,876.1 605.0,901.9 605.5,928.2 606.0,954.8 606.5,979.9 607.0,996.2 607.5,1008.5 608.0,1018.5 608.5,1027.3 609.0,1034.8 609.5,1041.1 610.0,1046.1 610.5,1050.1 611.0,1053.3 611.5,1056.0 612.0,1058.2 612.5,1060.0 613.0,1061.5 613.5,1062.7 614.0,1063.8 614.5,1064.6 615.0,1065.3 615.5,1065.8 616.0,1066.3 616.5,1066.8 617.0,1067.2 617.5,1067.6 618.0,1067.9 618.5,1068.2 619.0,1068.5 619.5,1068.8 620.0,1069.1 620.5,1069.3 621.0,1069.5 621.5,1069.7 622.0,1069.9 622.5,1070.0 623.0,1070.1 623.5,1070.2 624.0,1070.3 624.5,1070.4 625.0,1070.5 625.5,1070.5 626.0,1070.6 626.5,1070.6 627.0,1070.7 627.5,1070.8 628.0,1070.6 628.5,1070.6 629.0,1070.5 629.5,1070.5 630.0,1070.4 630.5,1070.2 631.0,1070.1 631.5,1069.9 632.0,1069.6 632.5,1069.2 633.0,1068.7 633.5,1068.1 634.0,1067.2 634.5,1066.0 635.0,1064.5 635.5,1062.6 636.0,1060.1 636.5,1056.9 637.0,1053.0 637.5,1048.2 638.0,1042.7 638.5,1036.1 639.0,1027.8 639.5,1016.7 640.0,1001.7 640.5,983.6 641.0,963.2 641.5,939.7 642.0,913.7 642.5,885.5 643.0,854.3 643.5,825.3 644.0,802.7 644.5,783.2 645.0,768.4 645.5,756.7 646.0,746.1 646.5,738.3 647.0,734.8 647.5,738.3 648.0,746.1 648.5,756.7 649.0,768.4 649.5,783.3 650.0,803.0 650.5,825.1 651.0,851.2 651.5,880.0 652.0,908.6 652.5,940.4 653.0,967.9 653.5,985.9 654.0,998.4 654.5,1008.1 655.0,1016.3 655.5,1023.8 656.0,1030.6 656.5,1036.5 657.0,1041.6 657.5,1046.0 658.0,1049.6 658.5,1052.6 659.0,1055.2 659.5,1057.4 660.0,1059.3 660.5,1060.9 661.0,1062.2 661.5,1063.2 662.0,1064.1 662.5,1064.9 663.0,1065.6 663.5,1066.2 664.0,1066.7 664.5,1067.1 665.0,1067.5 665.5,1067.8 666.0,1068.1 666.5,1068.3 667.0,1068.5 667.5,1068.7 668.0,1068.8 668.5,1068.9 669.0,1069.0 669.5,1069.1 670.0,1069.2 670.5,1069.3 671.0,1069.4 671.5,1069.4 672.0,1069.5 672.5,1069.6 673.0,1069.6 673.5,1069.7 674.0,1069.7 674.5,1069.8 675.0,1069.8 675.5,1069.8 676.0,1069.9 676.5,1069.9 677.0,1070.0 677.5,1070.0 678.0,1070.0 678.5,1070.1 679.0,1070.1 679.5,1070.2 680.0,1070.2 680.5,1070.2 681.0,1070.3 681.5,1070.3 682.0,1070.3 682.5,1070.4 683.0,1070.4 683.5,1070.4 684.0,1070.4 684.5,1070.5 685.0,1070.5 685.5,1070.5 686.0,1070.5 686.5,1070.6 687.0,1070.6 687.5,1070.6 688.0,1070.6 688.5,1070.6 689.0,1070.6 689.5,1070.6 690.0,1070.7 690.5,1070.7 691.0,1070.7 691.5,1070.7 692.0,1070.7 692.5,1070.8 693.0,1070.8 693.5,1070.8 694.0,1070.8 694.5,1070.8 695.0,1070.8 695.5,1070.8 696.0,1070.8 696.5,1070.8 697.0,1070.8 697.5,1070.8 698.0,1070.8 698.5,1070.8 699.0,1070.8 699.5,1070.8 700.0,1070.8 700.5,1070.8 701.0,1070.8 701.5,1070.8 702.0,1070.8 702.5,1070.8 703.0,1070.8 703.5,1070.8 704.0,1070.8 704.5,1070.8 705.0,1070.8 705.5,1070.8 706.0,1070.8 706.5,1070.8 707.0,1070.8 707.5,1070.8 708.0,1070.8 708.5,1070.8 709.0,1070.8 709.5,1070.8 710.0,1070.8 710.5,1070.8 711.0,1070.8 711.5,1070.8 712.0,1070.8 712.5,1070.8 713.0,1070.8 713.5,1070.8 714.0,1070.8 714.5,1070.8 715.0,1070.8 715.5,1070.8 716.0,1070.8 716.5,1070.8 717.0,1070.8 717.5,1070.8 718.0,1070.8 718.5,1070.8 719.0,1070.8 719.5,1070.8 720.0,1070.8 720.5,1070.8 721.0,1070.8 721.5,1070.8 722.0,1070.8 722.5,1070.8 723.0,1070.8 723.5,1070.8 724.0,1070.8 724.5,1070.8 725.0,1070.8 725.5,1070.8 726.0,1070.8 726.5,1070.8 727.0,1070.8 727.5,1070.8 728.0,1070.8 728.5,1070.8 729.0,1070.8 729.5,1070.8 730.0,1070.8 730.5,1070.8 731.0,1070.8 731.5,1070.8 732.0,1070.8 732.5,1070.8 733.0,1070.8 733.5,1070.3 734.0,1070.1 734.5,1069.9 735.0,1069.5 735.5,1069.1 736.0,1068.4 736.5,1067.6 737.0,1066.4 737.5,1064.9 738.0,1062.9 738.5,1060.3 739.0,1056.9 739.5,1052.2 740.0,1045.4 740.5,1035.9 741.0,1024.8 741.5,1014.4 742.0,1004.8 742.5,995.5 743.0,985.5 743.5,973.9 744.0,961.1 744.5,947.7 745.0,934.9 745.5,923.2 746.0,912.7 746.5,905.6 747.0,900.0 747.5,896.3 748.0,897.0 748.5,899.6 749.0,902.9 749.5,906.5 750.0,910.5 750.5,915.1 751.0,920.4 751.5,926.2 752.0,932.5 752.5,940.0 753.0,948.6 753.5,957.7 754.0,966.8 754.5,975.4 755.0,983.3 755.5,990.6 756.0,997.5 756.5,1004.1 757.0,1010.3 757.5,1016.1 758.0,1021.5 758.5,1026.5 759.0,1031.2 759.5,1035.5 760.0,1039.4 760.5,1042.9 761.0,1046.1 761.5,1048.9 762.0,1051.5 762.5,1053.7 763.0,1055.8 763.5,1057.6 764.0,1059.2 764.5,1060.6 765.0,1061.9 765.5,1063.0 766.0,1064.0 766.5,1064.9 767.0,1065.6 767.5,1066.3 768.0,1066.9 768.5,1067.4 769.0,1067.9 769.5,1068.0 770.0,1068.3 770.5,1068.5 771.0,1068.7 771.5,1068.8 772.0,1068.8 772.5,1068.7 773.0,1068.6 773.5,1068.3 774.0,1067.9 774.5,1067.4 775.0,1066.6 775.5,1065.7 776.0,1064.4 776.5,1062.8 777.0,1060.9 777.5,1058.6 778.0,1055.9 778.5,1052.7 779.0,1049.0 779.5,1044.7 780.0,1039.9 780.5,1034.5 781.0,1028.6 781.5,1022.1 782.0,1015.1 782.5,1007.9 783.0,1000.7 783.5,993.5 784.0,986.3 784.5,979.6 785.0,974.5 785.5,970.3 786.0,966.8 786.5,964.8 787.0,966.6 787.5,969.3 788.0,972.5 788.5,976.2 789.0,980.9 789.5,986.6 790.0,992.4 790.5,997.9 791.0,1002.7 791.5,1007.0 792.0,1011.1 792.5,1015.0 793.0,1018.6 793.5,1022.0 794.0,1025.1 794.5,1028.1 795.0,1030.9 795.5,1033.4 796.0,1035.8 796.5,1038.1 797.0,1040.2 797.5,1042.2 798.0,1044.1 798.5,1045.9 799.0,1047.5 799.5,1049.0 800.0,1050.3 800.5,1051.5 801.0,1052.6 801.5,1053.5 802.0,1054.4 802.5,1055.3 803.0,1056.0 803.5,1056.7 804.0,1057.4 804.5,1058.0 805.0,1058.6 805.5,1059.1 806.0,1059.6 806.5,1060.1 807.0,1060.5 807.5,1060.9 808.0,1061.3 808.5,1061.6 809.0,1061.9 809.5,1062.2 810.0,1062.5 810.5,1062.8 811.0,1063.1 811.5,1063.3 812.0,1063.6 812.5,1063.8 813.0,1064.0 813.5,1064.2 814.0,1064.4 814.5,1064.6 815.0,1064.8 815.5,1065.0 816.0,1065.1 816.5,1065.3 817.0,1065.4 817.5,1065.6 818.0,1065.7 818.5,1065.8 819.0,1066.0 819.5,1066.1 820.0,1066.2 820.5,1066.3 821.0,1066.4 821.5,1066.5 822.0,1066.6 822.5,1066.7 823.0,1066.8 823.5,1066.9 824.0,1066.9 824.5,1067.0 825.0,1067.1 825.5,1067.2 826.0,1067.2 826.5,1067.3 827.0,1067.4 827.5,1067.4 828.0,1067.5 828.5,1067.5 829.0,1067.6 829.5,1067.7 830.0,1067.7 830.5,1067.8 831.0,1067.8 831.5,1067.9 832.0,1067.9 832.5,1068.0 833.0,1068.0 833.5,1068.0 834.0,1068.1 834.5,1068.1 835.0,1068.2 835.5,1068.2 836.0,1068.3 836.5,1068.3 837.0,1068.3 837.5,1068.4 838.0,1068.4 838.5,1068.4 839.0,1068.5 839.5,1068.5 840.0,1068.5 840.5,1068.6 841.0,1068.6 841.5,1068.6 842.0,1068.7 842.5,1068.7 843.0,1068.7 843.5,1068.8 844.0,1068.8 844.5,1068.8 845.0,1068.8 845.5,1068.9 846.0,1068.9 846.5,1068.9 847.0,1069.0 847.5,1069.0 848.0,1069.0 848.5,1069.0 849.0,1069.1 849.5,1069.1 850.0,1069.1 850.5,1069.2 851.0,1069.2 851.5,1069.2 852.0,1069.2 852.5,1069.3 853.0,1069.3 853.5,1069.3 854.0,1069.3 854.5,1069.3 855.0,1069.4 855.5,1069.4 856.0,1069.4 856.5,1069.4 857.0,1069.5 857.5,1069.5 858.0,1069.5 858.5,1069.5 859.0,1069.5 859.5,1069.5 860.0,1069.6 860.5,1069.6 861.0,1069.6 861.5,1069.6 862.0,1069.6 862.5,1069.7 863.0,1069.7 863.5,1069.7 864.0,1069.7 864.5,1069.7 865.0,1069.7 865.5,1069.8 866.0,1069.8 866.5,1069.8 867.0,1069.8 867.5,1069.8 868.0,1069.8 868.5,1069.9 869.0,1069.9 869.5,1069.9 870.0,1069.9 870.5,1069.9 871.0,1069.9 871.5,1070.0 872.0,1070.0 872.5,1070.0 873.0,1070.0 873.5,1070.0 874.0,1070.0 874.5,1070.0 875.0,1070.1 875.5,1070.1 876.0,1070.1 876.5,1070.1 877.0,1070.1 877.5,1070.1 878.0,1070.1 878.5,1070.2 879.0,1070.2 879.5,1070.2 880.0,1070.2 880.5,1070.2 881.0,1070.2 881.5,1070.2 882.0,1070.3 882.5,1070.3 883.0,1070.3 883.5,1070.3 884.0,1070.3 884.5,1070.3 885.0,1070.3 885.5,1070.3 886.0,1070.3 886.5,1070.4 887.0,1070.4 887.5,1070.4 888.0,1070.4 888.5,1070.4 889.0,1070.4 889.5,1070.4 890.0,1070.4 890.5,1070.4 891.0,1070.4 891.5,1070.5 892.0,1070.5 892.5,1070.5 893.0,1070.5 893.5,1070.5 894.0,1070.5 894.5,1070.5 895.0,1070.5 895.5,1070.5 896.0,1070.5 896.5,1070.5 897.0,1070.5 897.5,1070.5 898.0,1070.5 898.5,1070.6 899.0,1070.6 899.5,1070.6 900.0,1070.6 900.5,1070.6 901.0,1070.6 901.5,1070.6 902.0,1070.6 902.5,1070.6 903.0,1070.6 903.5,1070.6 904.0,1070.6 904.5,1070.6 905.0,1070.6 905.5,1070.6 906.0,1070.6 906.5,1070.6 907.0,1070.6 907.5,1070.6 908.0,1070.6 908.5,1070.7 909.0,1070.7 909.5,1070.7 910.0,1070.7 910.5,1070.7 911.0,1070.7 911.5,1070.7 912.0,1070.7 912.5,1070.7 913.0,1070.7 913.5,1070.7 914.0,1070.7 914.5,1070.7 915.0,1070.7 915.5,1070.7 916.0,1070.7 916.5,1070.7 917.0,1070.7 917.5,1070.7 918.0,1070.7 918.5,1070.7 919.0,1070.7 919.5,1070.7 920.0,1070.7 920.5,1070.7 921.0,1070.7 921.5,1070.7 922.0,1070.7 922.5,1070.7 923.0,1070.7 923.5,1070.7 924.0,1070.7 924.5,1070.7 925.0,1070.7 925.5,1070.7 926.0,1070.7 926.5,1070.7 927.0,1070.7 927.5,1070.7 928.0,1070.7 928.5,1070.7 929.0,1070.8 929.5,1070.8 930.0,1070.8 930.5,1070.8 931.0,1070.8 931.5,1070.8 932.0,1070.8 932.5,1070.8 933.0,1070.8 933.5,1070.8 934.0,1070.8 934.5,1070.8 935.0,1070.8 935.5,1070.8 936.0,1070.8 936.5,1070.8 937.0,1070.8 937.5,1070.8 938.0,1070.8 938.5,1070.8 939.0,1070.8 939.5,1070.8 940.0,1070.8 940.5,1070.8 941.0,1070.8 941.5,1070.8 942.0,1070.8 942.5,1070.8 943.0,1070.8 943.5,1070.8 944.0,1070.8 944.5,1070.8 945.0,1070.8 945.5,1070.8 946.0,1070.8 946.5,1070.8 947.0,1070.8 947.5,1070.8 948.0,1070.8 948.5,1070.8 949.0,1070.8 949.5,1070.8 950.0,1070.8 950.5,1070.8 951.0,1070.8 951.5,1070.8 952.0,1070.8 952.5,1070.8 953.0,1070.8 953.5,1070.8 954.0,1070.8 954.5,1070.8 955.0,1070.8 955.5,1070.8 956.0,1070.8 956.5,1070.8 957.0,1070.8 957.5,1070.8 958.0,1070.8 958.5,1070.8 959.0,1070.8 959.5,1070.8 960.0,1070.8 960.5,1070.8 961.0,1070.8 961.5,1070.8 962.0,1070.8 962.5,1070.8 963.0,1070.8 963.5,1070.8 964.0,1070.8 964.5,1070.8 965.0,1070.8 965.5,1070.8 966.0,1070.8 966.5,1070.8 967.0,1070.8 967.5,1070.8 968.0,1070.8 968.5,1070.8 969.0,1070.8 969.5,1070.8 970.0,1070.8 970.5,1070.8 971.0,1070.8 971.5,1070.8 972.0,1070.8 972.5,1070.8 973.0,1070.8 973.5,1070.8 974.0,1070.8 974.5,1070.8 975.0,1070.8 975.5,1070.8 976.0,1070.8 976.5,1070.8 977.0,1070.8 977.5,1070.8 978.0,1070.8 978.5,1070.8 979.0,1070.8 979.5,1070.8 980.0,1070.8 980.5,1070.8 981.0,1070.8 981.5,1070.8 982.0,1070.8 982.5,1070.8 983.0,1070.8 983.5,1070.8 984.0,1070.8 984.5,1070.8 985.0,1070.8 985.5,1070.8 986.0,1070.8 986.5,1070.8 987.0,1070.8 987.5,1070.8 988.0,1070.8 988.5,1070.8 989.0,1070.8 989.5,1070.8 990.0,1070.8 990.5,1070.8 991.0,1070.8 991.5,1070.8 992.0,1070.8 992.5,1070.8 993.0,1070.8" fill="none" stroke="#2424ee" stroke-width="2.5" stroke-linejoin="round" stroke-linecap="butt"/>
<g stroke="#222" stroke-width="2.1" fill="none" stroke-linejoin="round">
<polyline points="208.3,1120.2 208.3,1110.9 1000.5,1110.9 1000.5,1120.4"/>
<line x1="307.3" y1="1110.9" x2="307.3" y2="1120.2"/>
<line x1="406.4" y1="1110.9" x2="406.4" y2="1120.2"/>
<line x1="505.4" y1="1110.9" x2="505.4" y2="1120.2"/>
<line x1="604.4" y1="1110.9" x2="604.4" y2="1120.2"/>
<line x1="703.5" y1="1110.9" x2="703.5" y2="1120.2"/>
<line x1="802.5" y1="1110.9" x2="802.5" y2="1120.2"/>
<line x1="901.5" y1="1110.9" x2="901.5" y2="1120.2"/>
</g>
<g fill="#222" stroke="#222" stroke-width="0.25" font-family="Liberation Sans, sans-serif" text-anchor="middle">
<text transform="translate(213.2,1137.3) scale(1.42,1)" font-size="19">0</text>
<text transform="translate(312.2,1137.3) scale(1.42,1)" font-size="19">1</text>
<text transform="translate(411.3,1137.3) scale(1.42,1)" font-size="19">2</text>
<text transform="translate(510.3,1137.3) scale(1.42,1)" font-size="19">3</text>
<text transform="translate(609.3,1137.3) scale(1.42,1)" font-size="19">4</text>
<text transform="translate(708.4,1137.3) scale(1.42,1)" font-size="19">5</text>
<text transform="translate(807.4,1137.3) scale(1.42,1)" font-size="19">6</text>
<text transform="translate(906.4,1137.3) scale(1.42,1)" font-size="19">7</text>
<text transform="translate(1008.9,1137.4) scale(1.3,1)" font-size="17.5">min</text>
<text transform="translate(441.3,555.6) scale(1.55,1)" font-size="20.5">1</text>
<text transform="translate(496.6,615.4) scale(1.55,1)" font-size="20.5">2</text>
<text transform="translate(546.9,1042.6) scale(1.55,1)" font-size="20.5">3</text>
<text transform="translate(598.7,797.9) scale(1.55,1)" font-size="20.5">4</text>
<text transform="translate(644.3,729.8) scale(1.55,1)" font-size="20.5">5</text>
<text transform="translate(748.4,887.0) scale(1.55,1)" font-size="20.5">6</text>
<text transform="translate(789.5,956.4) scale(1.55,1)" font-size="20.5">7</text>
</g>
</svg>
<div class="lab" style="left:26.1px;top:205.6px"><span class="n">1</span><span class="c" style="margin-left:1.2px">、多西拉敏</span><span class="ret">↵</span></div>
<div class="lab" style="left:328.5px;top:209.3px"><span class="n">2</span><span class="c" style="margin-left:1.0px">、美<span class="wavy">吡</span>拉敏</span><span class="ret clip">↵</span></div>
<div class="lab" style="left:680.0px;top:209.3px"><span class="n">3</span><span class="c" style="margin-left:1.3px">、琥珀酸</span><span class="ret clip">↵</span></div>
<div class="lab" style="left:1028.0px;top:208.8px"><span class="n" style="font-family:'Liberation Sans',sans-serif;font-size:26px">4</span><span class="c" style="margin-left:2.5px">、氯苯那敏</span><span class="ret clip">↵</span></div>
<div class="lab" style="left:25.8px;top:454.6px"><span class="n">5</span><span class="c" style="margin-left:1.2px">、溴苯那敏</span><span class="ret">↵</span></div>
<div class="lab" style="left:215.5px;top:425.5px"><span class="ret">↵</span></div>
<div class="lab" style="left:362.0px;top:460.5px"><span class="n">6</span><span class="c" style="margin-left:2.5px">、马来酸</span><span class="ret clip">↵</span></div>
<div class="lab" style="left:698.2px;top:459.5px"><span class="n">7</span><span class="c" style="margin-left:2.3px">、<span class="dbl">右美沙</span>芬</span><span class="ret clip">↵</span></div>
<ol>
<li><span class="no">1.</span><span class="en">Doxylamine</span><span class="cn" style="left:178.3px"><span class="pl">（</span>多西拉敏<span class="pr">）</span><span class="ret">↵</span></span></li>
<li><span class="no">2.</span><span class="en">Pyrilamine</span><span class="cn" style="left:165.5px"><span class="pl">（</span>美<span class="wavy">吡</span>拉敏<span class="pr">）</span><span class="ret">↵</span></span></li>
<li><span class="no">3.</span><span class="en">Succinic acid</span><span class="cn" style="left:192.8px"><span class="pl">（</span>琥珀酸<span class="pr">）</span><span class="ret">↵</span></span></li>
<li><span class="no">4.</span><span class="en">Chlorpheniramine</span><span class="cn" style="left:242.6px"><span class="pl">（</span>氯苯那敏<span class="pr">）</span><span class="ret">↵</span></span></li>
<li><span class="no">5.</span><span class="en">Brompheniramine</span><span class="cn" style="left:242.6px"><span class="pl">（</span>溴苯那敏<span class="pr">）</span><span class="ret">↵</span></span></li>
<li><span class="no">6.</span><span class="en">Maleic acid</span><span class="cn" style="left:172.9px"><span class="pl">（</span>马来酸<span class="pr">）</span><span class="ret">↵</span></span></li>
<li><span class="no">7.</span><span class="en">Dextromethorphan</span><span class="cn" style="left:252.3px"><span class="pl">（</span><span class="dbl2">右美沙</span>芬<span class="pr">）</span><span class="ret clip" style="width:5px;top:-9.5px;margin-left:-7.5px">↵</span></span></li>
</ol>
</body>
</html>
